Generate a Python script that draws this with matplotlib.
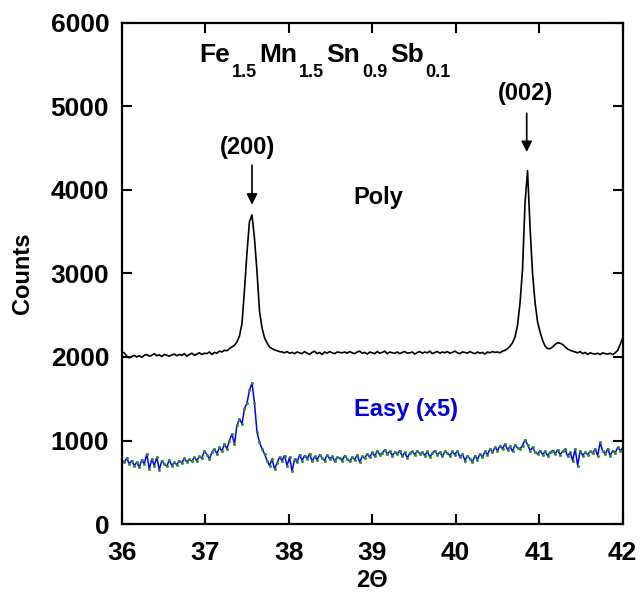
import numpy as np
import matplotlib
matplotlib.use("Agg")
import matplotlib.pyplot as plt

plt.rcParams['font.family'] = ['Liberation Sans', 'DejaVu Sans']
plt.rcParams['font.weight'] = 'bold'

# 2-theta grid (0.03 deg step, 36 -> 42)
two_theta = np.linspace(36.0, 42.0, 201)

# polycrystal counts
poly = [
    2060, 2050, 2010, 1990, 2005, 2020, 2000, 2015, 1995, 2020,
    2030, 2010, 2020, 2040, 2015, 2025, 2005, 2030, 2020, 2010,
    2025, 2035, 2015, 2030, 2020, 2040, 2010, 2030, 2045, 2020,
    2035, 2050, 2030, 2045, 2040, 2060, 2030, 2055, 2045, 2070,
    2060, 2080, 2075, 2100, 2120, 2140, 2180, 2250, 2400, 2800,
    3250, 3620, 3700, 3420, 3020, 2550, 2350, 2230, 2170, 2120,
    2100, 2085, 2075, 2065, 2060, 2050, 2065, 2045, 2055, 2040,
    2060, 2050, 2040, 2065, 2045, 2030, 2055, 2070, 2040, 2055,
    2030, 2060, 2045, 2065, 2050, 2040, 2060, 2055, 2050, 2060,
    2045, 2065, 2050, 2040, 2060, 2070, 2045, 2055, 2035, 2060,
    2050, 2040, 2065, 2045, 2055, 2070, 2040, 2060, 2050, 2045,
    2060, 2040, 2055, 2065, 2045, 2050, 2060, 2035, 2055, 2065,
    2045, 2060, 2050, 2070, 2040, 2055, 2065, 2045, 2060, 2050,
    2065, 2045, 2055, 2070, 2050, 2040, 2060, 2055, 2045, 2065,
    2050, 2040, 2060, 2045, 2055, 2035, 2060, 2050, 2065, 2055,
    2060, 2050, 2070, 2080, 2100, 2130, 2170, 2240, 2380, 2650,
    3050, 3850, 4230, 3550, 3000, 2650, 2420, 2300, 2200, 2130,
    2100, 2100, 2120, 2150, 2170, 2165, 2150, 2120, 2095, 2080,
    2070, 2060, 2050, 2065, 2040, 2055, 2030, 2050, 2040, 2035,
    2045, 2030, 2050, 2040, 2035, 2045, 2030, 2050, 2080, 2150,
    2230,
]

# easy-axis counts (already x5)
easy = [
    760, 740, 790, 720, 760, 700, 740, 680, 770, 720,
    840, 660, 780, 700, 800, 650, 760, 720, 690, 770,
    700, 740, 710, 760, 730, 790, 740, 780, 750, 800,
    760, 810, 790, 880, 830, 780, 860, 900, 840, 920,
    870, 960, 900, 1000, 1080, 960, 1180, 1260, 1200, 1380,
    1450, 1600, 1690, 1450, 1100, 980, 900, 840, 760, 700,
    780, 660, 730, 800, 760, 820, 700, 800, 630, 780,
    740, 830, 760, 820, 780, 840, 750, 810, 770, 830,
    790, 760, 830, 780, 810, 750, 800, 790, 760, 820,
    780, 750, 800, 770, 830, 740, 810, 790, 840, 800,
    860, 810, 880, 830, 850, 890, 840, 870, 820, 860,
    840, 880, 810, 860, 790, 850, 870, 830, 880, 840,
    860, 820, 870, 800, 850, 880, 830, 860, 810, 870,
    850, 820, 870, 830, 880, 800, 840, 760, 820, 780,
    740, 820, 770, 840, 800, 870, 830, 900, 860, 920,
    880, 940, 900, 960, 890, 930, 870, 950, 910, 900,
    940, 1010, 950, 880, 920, 860, 840, 880, 830, 870,
    820, 860, 880, 840, 890, 830, 870, 900, 810, 860,
    760, 900, 700, 880, 820, 860, 830, 870, 850, 900,
    820, 980, 870, 840, 900, 820, 880, 850, 920, 880,
    910,
]

x_ticks = [36, 37, 38, 39, 40, 41, 42]
y_ticks = [0, 1000, 2000, 3000, 4000, 5000, 6000]

fig = plt.figure(figsize=(6.44, 6.01), dpi=100)
ax = fig.add_axes([0.189, 0.128, 0.778, 0.834])

ax.plot(two_theta, poly, color='black', lw=1.2)
ax.plot(two_theta, easy, color='#0000ff', lw=1.1, marker='s', ms=1.0,
        mfc='#2e8b2e', mec='#2e8b2e')

ax.set_xlim(36, 42)
ax.set_ylim(0, 6000)
ax.set_xticks(x_ticks)
ax.set_yticks(y_ticks)
ax.tick_params(direction='in', length=7, width=1.5, top=True, right=True,
               labelsize=19)
ax.tick_params(axis='y', pad=9)
ax.tick_params(axis='x', pad=12)
for sp in ax.spines.values():
    sp.set_linewidth(1.6)

ax.set_ylabel('Counts', fontsize=17, fontweight='bold', labelpad=12)
ax.set_xlabel('2\u0398', fontsize=17, fontweight='bold', labelpad=3)

# peak labels with arrows
ax.text(37.51, 4512, '(200)', fontsize=17, ha='center', va='center')
ax.annotate('', xy=(37.56, 3790), xytext=(37.56, 4330),
            arrowprops=dict(arrowstyle='-|>', color='black', lw=1.2,
                            mutation_scale=16))
ax.text(40.83, 5150, '(002)', fontsize=17, ha='center', va='center')
ax.annotate('', xy=(40.85, 4420), xytext=(40.85, 4950),
            arrowprops=dict(arrowstyle='-|>', color='black', lw=1.2,
                            mutation_scale=16))

ax.text(39.07, 3912, 'Poly', fontsize=17, ha='center', va='center')
ax.text(39.40, 1368, 'Easy (x5)', fontsize=17, ha='center', va='center',
        color='#0000dd')

# formula, chained pieces so the subscripts hang low like the original
pieces = [('Fe', '1.5'), ('Mn', '1.5'), ('Sn', '0.9'), ('Sb', '0.1')]
prev_main, prev_sub = None, None
for main, sub in pieces:
    if prev_main is None:
        t = ax.text(36.93, 5530, main, fontsize=19, ha='left', va='baseline')
    else:
        t = ax.annotate(main, xy=(1, 0), xycoords=(prev_sub, prev_main),
                        xytext=(2, 0), textcoords='offset points',
                        fontsize=19, ha='left', va='bottom')
    s = ax.annotate(sub, xy=(1, 0), xycoords=t, xytext=(1, 2),
                    textcoords='offset points', fontsize=13,
                    ha='left', va='top')
    prev_main, prev_sub = t, s

fig.savefig('out.png', dpi=100)
